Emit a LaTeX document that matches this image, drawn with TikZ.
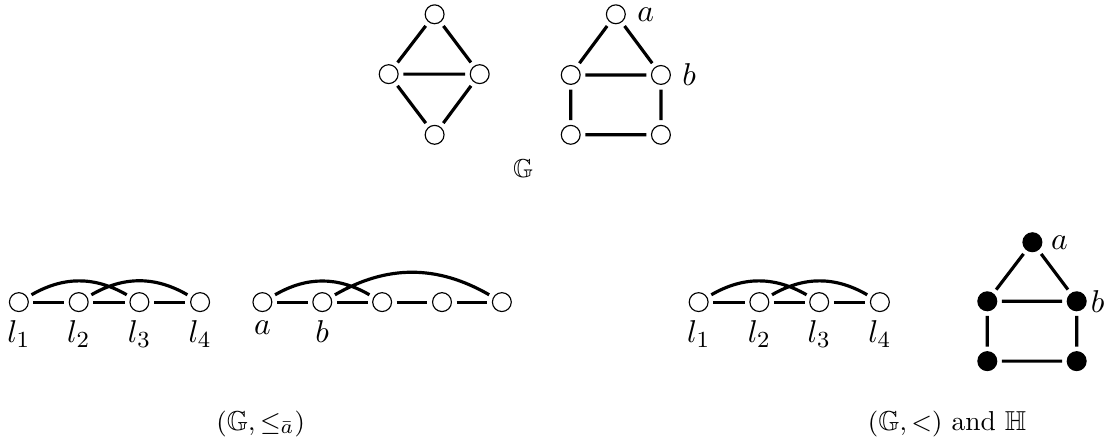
\documentclass[tikz,border=0pt]{standalone}
\usepackage{amsmath,amssymb}
\usetikzlibrary{positioning}
\tikzset{
  vtx/.style={draw,circle,line width=0.4pt,inner sep=0pt,minimum size=2.3mm,outer sep=1.8pt},
  fvtx/.style={vtx,fill},
  arc/.style={bend left=30},
  lab/.style={label distance=-2.5pt,font=\fontsize{11}{13}\selectfont},
  capt/.style={font=\fontsize{9.5}{11}\selectfont}
}

\begin{document}
\begin{tikzpicture}[line width=1.1pt,every label/.style={lab}]
  \useasboundingbox (0,0) rectangle (13.585,5.354);
  % the graph G
  \node[vtx] (d1) at (5.30,5.18) {};
  \node[vtx] (d2) at (4.74,4.45) {};
  \node[vtx] (d3) at (5.85,4.45) {};
  \node[vtx] (d4) at (5.30,3.71) {};
  \draw (d1) -- (d2) (d1) -- (d3) (d2) -- (d3) (d2) -- (d4) (d3) -- (d4);
  \node[vtx,label={[label distance=-1.5pt]right:$a$}] (h1) at (7.51,5.18) {};
  \node[vtx] (h2) at (6.96,4.44) {};
  \node[vtx,label={[label distance=-1.5pt]right:$b$}] (h3) at (8.06,4.44) {};
  \node[vtx] (h4) at (6.96,3.71) {};
  \node[vtx] (h5) at (8.06,3.71) {};
  \draw (h1) -- (h2) (h1) -- (h3) (h2) -- (h3) (h2) -- (h4) (h3) -- (h5) (h4) -- (h5);
  \node[font=\small] (gG) at (6.38,3.30) {$\mathbb{G}$};

  % ordered by the tuple
  \node[vtx,label=below:$l_1$] (p1) at (0.23,1.67) {};
  \node[vtx,label=below:$l_2$] (p2) at (0.96,1.67) {};
  \node[vtx,label=below:$l_3$] (p3) at (1.70,1.67) {};
  \node[vtx,label=below:$l_4$] (p4) at (2.44,1.67) {};
  \draw (p1) -- (p2) -- (p3) -- (p4);
  \draw (p1) to[arc] (p3) (p2) to[arc] (p4);
  \node[vtx,label=below:$a$] (q1) at (3.20,1.67) {};
  \node[vtx,label=below:$b$] (q2) at (3.93,1.67) {};
  \node[vtx] (q3) at (4.66,1.67) {};
  \node[vtx] (q4) at (5.39,1.67) {};
  \node[vtx] (q5) at (6.12,1.67) {};
  \draw (q1) -- (q2) -- (q3) -- (q4) -- (q5);
  \draw (q1) to[arc] (q3) (q2) to[arc] (q5);
  \node[capt] (cap1) at (3.18,0.18) {$(\mathbb{G},\leq_{\bar{a}})$};

  % ordered graph and H
  \node[vtx,label=below:$l_1$] (r1) at (8.52,1.67) {};
  \node[vtx,label=below:$l_2$] (r2) at (9.26,1.67) {};
  \node[vtx,label=below:$l_3$] (r3) at (9.99,1.67) {};
  \node[vtx,label=below:$l_4$] (r4) at (10.73,1.67) {};
  \draw (r1) -- (r2) -- (r3) -- (r4);
  \draw (r1) to[arc] (r3) (r2) to[arc] (r4);
  \node[fvtx,label={[label distance=-2.5pt]right:$a$}] (k1) at (12.59,2.40) {};
  \node[fvtx] (k2) at (12.04,1.68) {};
  \node[fvtx,label={[label distance=-4pt]right:$b$}] (k3) at (13.13,1.68) {};
  \node[fvtx] (k4) at (12.04,0.95) {};
  \node[fvtx] (k5) at (13.13,0.95) {};
  \draw (k1) -- (k2) (k1) -- (k3) (k2) -- (k3) (k2) -- (k4) (k3) -- (k5) (k4) -- (k5);
  \node[capt] (cap2) at (11.55,0.18) {$(\mathbb{G},<)$ and $\mathbb{H}$};
\end{tikzpicture}
\end{document}
